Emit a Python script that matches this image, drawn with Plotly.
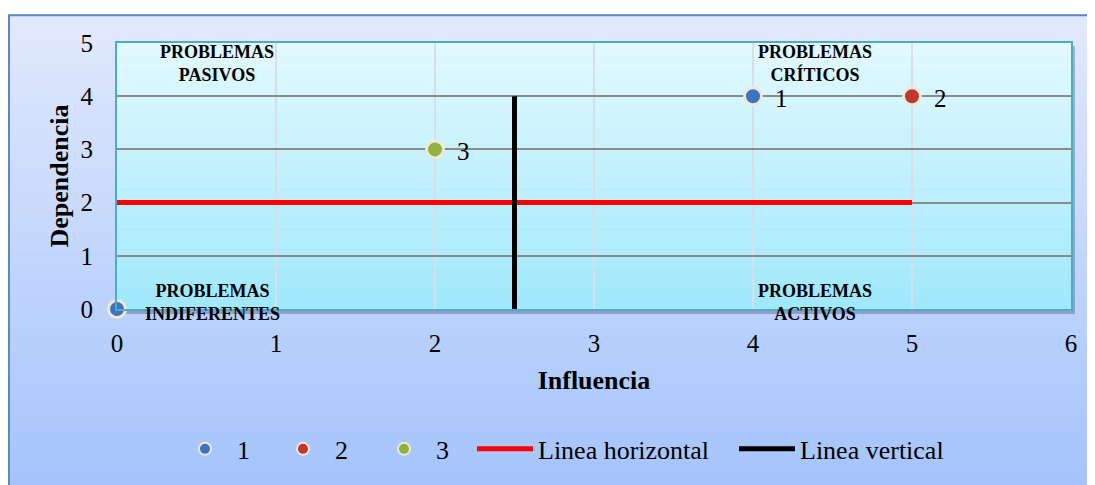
import plotly.graph_objects as go

# ---- data ----
s1_x = [0, 4]
s1_y = [0, 4]
s1_lbl = ["", "1"]
s2_x = [5]
s2_y = [4]
s2_lbl = ["2"]
s3_x = [2]
s3_y = [3]
s3_lbl = ["3"]
h_x = [0, 5]
h_y = [2, 2]
v_x = [2.5, 2.5]
v_y = [0, 4]
x_ticks = [0, 1, 2, 3, 4, 5, 6]
y_ticks = [0, 1, 2, 3, 4, 5]
quadrants = [
    ("PROBLEMAS<br>PASIVOS", 0.63, 5, "top"),
    ("PROBLEMAS<br>CRÍTICOS", 4.39, 5, "top"),
    ("PROBLEMAS<br>INDIFERENTES", 0.6, 0, "middle"),
    ("PROBLEMAS<br>ACTIVOS", 4.39, 0, "middle"),
]

OFF = 8  # default page body margin
W, H = 1095 - OFF, 485 - OFF
L, R, T, B = 117, 1071, 43, 311  # plot area in page px
PW, PH = R - L, B - T


def px2paper(px, py):
    return (px - L) / PW, (B - py) / PH


def lerp(c1, c2, t):
    return "rgb(%d,%d,%d)" % tuple(round(a + (b - a) * t) for a, b in zip(c1, c2))


shapes = []
# outer gradient background
top_c, bot_c = (225, 233, 252), (165, 196, 252)
n = 60
y0p, y1p = 14, 490
for i in range(n):
    ya = y0p + (y1p - y0p) * i / n
    yb = y0p + (y1p - y0p) * (i + 1) / n + 1
    xa, ya_ = px2paper(8, ya)
    xb, yb_ = px2paper(1100, yb)
    shapes.append(dict(type="rect", xref="paper", yref="paper", x0=xa, x1=xb, y0=yb_, y1=ya_,
                       fillcolor=lerp(top_c, bot_c, i / (n - 1)), line=dict(width=0), layer="below"))
# outer border
xa, ya_ = px2paper(9, 15)
xb, yb_ = px2paper(1110, 500)
shapes.append(dict(type="rect", xref="paper", yref="paper", x0=xa, x1=xb, y0=yb_, y1=ya_,
                   fillcolor="rgba(0,0,0,0)", line=dict(width=2, color="#5b87c4"), layer="below"))
# plot area shadow
xa, ya_ = px2paper(L + 3, T + 3)
xb, yb_ = px2paper(R + 4, B + 5)
shapes.append(dict(type="rect", xref="paper", yref="paper", x0=xa, x1=xb, y0=yb_, y1=ya_,
                   fillcolor="rgba(60,70,110,0.35)", line=dict(width=0), layer="below"))
# plot area gradient
ptop, pbot = (226, 249, 254), (160, 232, 252)
m = 40
for i in range(m):
    ya = i / m
    yb = (i + 1) / m + 0.002
    shapes.append(dict(type="rect", xref="paper", yref="paper", x0=0, x1=1,
                       y0=1 - min(yb, 1), y1=1 - ya,
                       fillcolor=lerp(ptop, pbot, i / (m - 1)), line=dict(width=0), layer="below"))

serif = "Liberation Serif, Times New Roman, serif"
outline = dict(color="#efe8d8", width=3)
lblfont = dict(family=serif, size=25, color="black")

fig = go.Figure()
series = [
    (s1_x, s1_y, s1_lbl, "1", "#3f74bd", "legend"),
    (s2_x, s2_y, s2_lbl, "2", "#c0392f", "legend2"),
    (s3_x, s3_y, s3_lbl, "3", "#8fb43e", "legend3"),
]
annotations = []
for xs, ys, lbls, name, col, lg in series:
    fig.add_trace(go.Scatter(x=xs, y=ys, mode="markers", name=name, cliponaxis=False,
                             marker=dict(size=17, color=col, line=outline), legend=lg))
    for xx, yy, tt in zip(xs, ys, lbls):
        if tt:
            annotations.append(dict(x=xx, y=yy, xref="x", yref="y", text=tt, showarrow=False,
                                    xanchor="left", yanchor="middle", xshift=20, yshift=-2,
                                    font=lblfont))
fig.add_trace(go.Scatter(x=h_x, y=h_y, mode="lines", name="Linea horizontal",
                         line=dict(color="#ff0000", width=5), legend="legend4"))
fig.add_trace(go.Scatter(x=v_x, y=v_y, mode="lines", name="Linea vertical",
                         line=dict(color="#000000", width=5), legend="legend5"))

for txt, xx, yy, va in quadrants:
    annotations.append(dict(x=xx, y=yy, xref="x", yref="y", text="<b>" + txt + "</b>",
                            showarrow=False, yanchor=va, xanchor="center",
                            yshift=(3 if va == "top" else 7),
                            font=dict(family=serif, size=18, color="black"),
                            align="center"))

legfont = dict(family=serif, size=26, color="black")


def leg(px_left, py_mid, iw):
    lx, ly = px2paper(px_left, py_mid)
    return dict(x=lx, xanchor="left", y=ly, yanchor="middle", font=legfont, itemwidth=iw,
                itemsizing="constant",
                bgcolor="rgba(0,0,0,0)", borderwidth=0, orientation="h")


fig.update_layout(
    width=W, height=H,
    margin=dict(l=L - OFF, r=W - (R - OFF), t=T - OFF, b=H - (B - OFF), pad=0),
    paper_bgcolor="white",
    plot_bgcolor="rgba(0,0,0,0)",
    shapes=shapes,
    annotations=annotations,
    showlegend=True,
    legend=leg(173, 452, 54),
    legend2=leg(271, 452, 54),
    legend3=leg(372, 452, 54),
    legend4=leg(472, 452, 56),
    legend5=leg(734, 452, 56),
    xaxis=dict(range=[0, 6], tickvals=x_ticks, ticktext=[str(v) for v in x_ticks],
               showgrid=True, gridcolor="#d8dde6", gridwidth=1.5,
               showline=True, linecolor="#4bacc6", linewidth=2, mirror=True,
               zeroline=False, ticks="outside", ticklen=11, tickcolor="rgba(0,0,0,0)",
               tickfont=dict(family=serif, size=25, color="black"), automargin=False,
               title=dict(text="<b>Influencia</b>", standoff=15,
                          font=dict(family=serif, size=26, color="black"))),
    yaxis=dict(range=[0, 5], tickvals=y_ticks, ticktext=[str(v) for v in y_ticks],
               showgrid=True, gridcolor="#8a8a8a", gridwidth=2,
               showline=True, linecolor="#4bacc6", linewidth=2, mirror=True,
               zeroline=False, ticks="outside", ticklen=17, tickcolor="rgba(0,0,0,0)",
               tickfont=dict(family=serif, size=25, color="black"), automargin=False,
               title=dict(text="<b>Dependencia</b>", standoff=4,
                          font=dict(family=serif, size=26, color="black"))),
)

fig.write_html("out.html")
